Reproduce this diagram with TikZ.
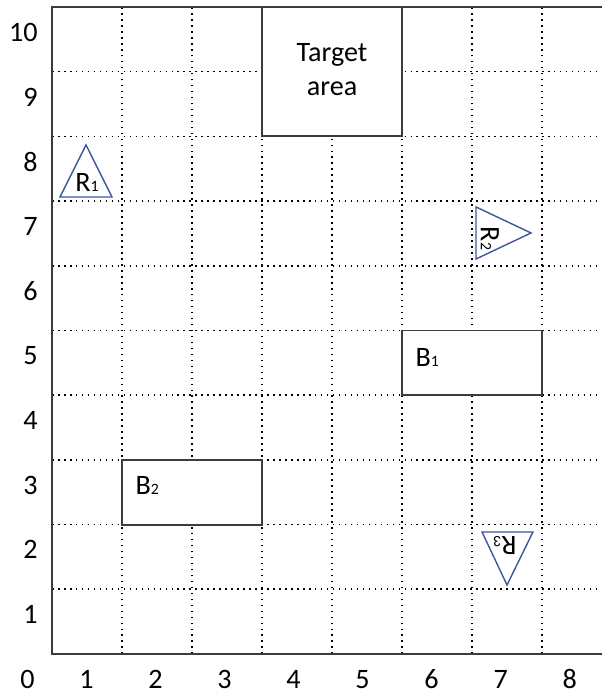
\documentclass[tikz,border=0pt]{standalone}
\usepackage{fontspec}
\setmainfont{Carlito}
\usetikzlibrary{positioning}

\definecolor{robotblue}{RGB}{59,89,152}
\definecolor{framegray}{RGB}{60,60,60}
\newcommand{\smallidx}[1]{{\fontsize{9}{9}\selectfont #1}}

\begin{document}
\begin{tikzpicture}[x=1.4cm,y=1.294cm,
  font=\fontsize{16}{19.5}\selectfont,
  gridline/.style={line width=0.9pt,dash pattern=on 0.9pt off 2.5pt},
  frameline/.style={framegray,line width=1.1pt},
  obstacle/.style={framegray,line width=1.1pt,fill=white},
  robot/.style={robotblue,line width=0.8pt},
  axisnum/.style={inner sep=0pt}]
\useasboundingbox (-0.743,-0.603) rectangle (7.843,10.108);

% dotted grid
\foreach \i in {1,...,7} \draw[gridline] (\i,0) -- (\i,10);
\foreach \j in {1,...,9} \draw[gridline] (0,\j) -- (7.85,\j);

% frame (open on the right)
\draw[frameline] (7.85,10) -- (0,10) -- (0,0) -- (7.85,0);

% target area and blocks
\draw[obstacle] (3,8) rectangle (5,10);
\node[align=center] (target) at (4,9.03) {Target\\area};

\draw[obstacle] (5,4) rectangle (7,5);
\node[anchor=west,inner sep=0pt] (B1) at (5.19,4.59) {B\smallidx{1}};

\draw[obstacle] (1,2) rectangle (3,3);
\node[anchor=west,inner sep=0pt] (B2) at (1.19,2.61) {B\smallidx{2}};

% robots
\draw[robot] (0.114,7.063) -- (0.857,7.063) -- (0.486,7.867) -- cycle;
\node (R1) at (0.5,7.28) {R\smallidx{1}};

\draw[robot] (6.057,6.909) -- (6.057,6.105) -- (6.843,6.507) -- cycle;
\node[rotate=-90] (R2) at (6.257,6.42) {R\smallidx{2}};

\draw[robot] (6.143,1.886) -- (6.871,1.886) -- (6.5,1.066) -- cycle;
\node[rotate=180] (R3) at (6.47,1.67) {R\smallidx{3}};

% axis numbers
\node[axisnum,anchor=east] (y0) at (-0.243,-0.39) {0};
\foreach \k in {1,...,10} \node[axisnum,anchor=east] (y\k) at (-0.2,\k-0.39) {\k};
\foreach \k in {1,...,8} \node[axisnum] (x\k) at ({0.986*(\k-0.5)},-0.39) {\k};
\end{tikzpicture}
\end{document}
